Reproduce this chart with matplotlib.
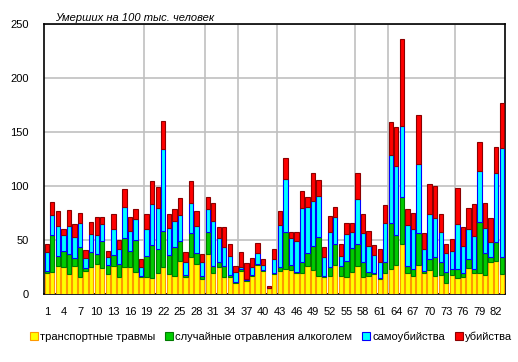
import matplotlib
matplotlib.use("Agg")
import matplotlib.pyplot as plt
from matplotlib.patches import Patch
import numpy as np

plt.rcParams['font.family'] = ['Liberation Sans', 'DejaVu Sans']

# regions 1..83, deaths per 100k by cause (stacked segments)
regions = np.arange(1, 84)
transport = [19.1, 20.7, 26.2, 24.7, 18.2, 26.2, 15.4, 21.0, 24.7, 28.1,
             23.8, 18.8, 26.2, 16.0, 24.7, 25.3, 20.7, 16.0, 15.4, 14.5,
             19.1, 25.3, 18.5, 17.0, 30.9, 16.0, 34.6, 27.5, 13.6, 37.0,
             19.1, 24.7, 16.0, 16.0, 10.5, 21.6, 12.5, 16.7, 26.9, 21.6,
             5.6, 18.5, 21.6, 22.8, 22.2, 19.8, 19.8, 26.2, 22.2, 17.0,
             16.0, 17.0, 27.2, 17.0, 16.0, 20.7, 26.2, 16.0, 16.7, 18.2,
             13.6, 19.8, 22.8, 26.9, 46.6, 19.8, 17.0, 26.5, 19.1, 22.2,
             16.4, 17.6, 10.5, 17.6, 15.1, 15.4, 24.4, 19.8, 19.8, 17.3,
             29.3, 30.9, 18.2]
alcohol = [2.5, 33.9, 9.0, 15.1, 18.5, 6.8, 28.4, 2.8, 14.5, 9.2,
           25.6, 8.1, 10.2, 11.5, 26.8, 14.8, 29.3, 1.0, 20.1, 31.2,
           22.9, 33.3, 17.3, 26.8, 18.5, 1.9, 21.6, 10.8, 3.4, 20.7,
           7.1, 5.2, 10.2, 1.6, 0.3, 1.2, 0.5, 0.9, 0.9, 0.6,
           0.0, 1.3, 3.1, 34.9, 4.7, 0.9, 10.1, 12.1, 22.6, 35.5,
           0.7, 8.3, 19.1, 9.2, 14.6, 22.2, 20.1, 13.9, 3.7, 1.6,
           0.9, 10.1, 42.6, 27.7, 43.5, 6.1, 5.8, 29.7, 2.5, 9.9,
           18.2, 12.3, 10.2, 5.2, 7.7, 4.4, 7.7, 3.0, 46.6, 21.0,
           4.7, 17.6, 16.4]
suicide = [17.6, 18.5, 27.8, 14.8, 26.3, 19.8, 22.2, 9.8, 16.7, 17.6,
           15.7, 7.7, 24.1, 14.5, 28.7, 18.5, 19.4, 8.3, 24.7, 37.6,
           37.9, 75.4, 25.0, 24.1, 24.1, 12.0, 28.4, 25.0, 12.3, 21.0,
           41.7, 22.3, 17.6, 17.9, 9.3, 2.5, 0.5, 7.4, 9.9, 4.7,
           0.0, 12.6, 39.2, 48.5, 24.6, 28.7, 49.4, 42.6, 41.6, 38.5,
           17.9, 32.4, 25.3, 9.3, 25.0, 14.5, 41.7, 26.9, 24.4, 16.3,
           15.4, 35.5, 63.3, 64.2, 65.8, 38.0, 37.1, 64.2, 19.8, 41.7,
           35.4, 27.8, 17.6, 17.3, 41.7, 25.0, 27.8, 31.2, 47.8, 22.5,
           14.5, 63.8, 100.3]
homicide = [6.8, 11.8, 13.5, 5.3, 14.5, 11.7, 8.7, 6.8, 10.5, 16.1,
            5.9, 4.9, 13.3, 8.0, 16.7, 12.4, 9.6, 6.8, 13.6, 21.6,
            18.9, 25.9, 13.6, 10.8, 15.1, 9.3, 20.0, 13.6, 7.7, 10.8,
            16.1, 9.5, 17.9, 10.5, 5.8, 13.6, 14.9, 8.0, 9.2, 5.2,
            1.8, 9.6, 12.6, 19.4, 5.6, 8.3, 16.1, 9.2, 25.3, 14.2,
            9.2, 14.8, 9.3, 11.1, 10.4, 8.6, 23.7, 17.0, 13.2, 9.6,
            11.5, 16.7, 30.3, 35.5, 79.9, 14.5, 15.4, 45.0, 14.8, 27.7,
            30.0, 16.1, 7.7, 10.5, 33.3, 16.9, 19.4, 29.0, 26.2, 23.2,
            21.6, 23.5, 41.6]

labels = ["транспортные травмы", "случайные отравления алкоголем",
          "самоубийства", "убийства"]
faces = ["#FFFF00", "#00CC00", "#00FFFF", "#FF0000"]
edges = ["#FF9900", "#007A00", "#0000FF", "#8B0000"]
# federal district boundaries
district_ends = [18, 29, 35, 42, 56, 62, 74]

fig = plt.figure(figsize=(5.18, 3.62), dpi=100)
ax = fig.add_axes([0.0849, 0.1878, 0.8891, 0.7459])

bottom = np.zeros(len(regions))
for vals, fc, ec in zip([transport, alcohol, suicide, homicide], faces, edges):
    vals = np.array(vals)
    ax.bar(regions, vals, bottom=bottom, width=0.78, color=fc,
           edgecolor=ec, linewidth=0.8, zorder=3)
    bottom += vals

for b in district_ends:
    ax.axvline(b + 0.5, color="#C0C0C0", linewidth=1.2, zorder=1)

ax.set_xlim(0.5, 83.5)
ax.set_ylim(0, 250)
ax.set_yticks(np.arange(0, 251, 50))
ax.set_xticks(regions[::3])
ax.yaxis.grid(True, color="#C0C0C0", linewidth=1.2, zorder=1)
ax.set_axisbelow(True)
ax.tick_params(axis="both", length=0, labelsize=8)
ax.tick_params(axis="y", pad=11)
ax.tick_params(axis="x", pad=9)
for s in ax.spines.values():
    s.set_color("black")
    s.set_linewidth(1.2)

fig.text(55 / 518, 1 - 21 / 362, "Умерших на 100 тыс. человек",
         fontsize=8, style="italic", ha="left", va="baseline")

handles = [Patch(facecolor=fc, edgecolor=ec, linewidth=0.8)
           for fc, ec in zip(faces, edges)]
fig.legend(handles, labels, loc="center", bbox_to_anchor=(0.523, 0.069),
           ncol=4, frameon=False, fontsize=8, handlelength=0.7,
           handleheight=0.7, handletextpad=0.2, columnspacing=0.9,
           borderpad=0)

fig.savefig("out.png", dpi=100)
